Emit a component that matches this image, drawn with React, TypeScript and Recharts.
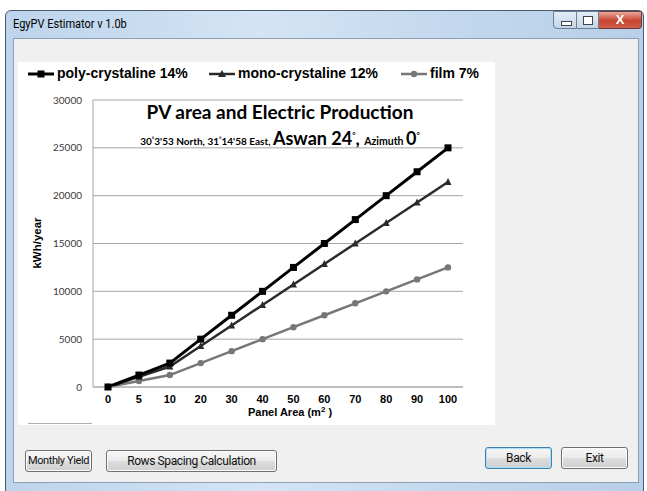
import React from "react";
import { CartesianGrid, Line, LineChart, XAxis, YAxis } from "recharts";

const areas = ["0", "5", "10", "20", "30", "40", "50", "60", "70", "80", "90", "100"];
const polyKwh = [0, 1250, 2500, 5000, 7500, 10000, 12500, 15000, 17500, 20000, 22500, 25000];
const monoKwh = [0, 1070, 2140, 4290, 6430, 8570, 10710, 12860, 15000, 17140, 19290, 21430];
const filmKwh = [0, 625, 1250, 2500, 3750, 5000, 6250, 7500, 8750, 10000, 11250, 12500];
const yTicks = [0, 5000, 10000, 15000, 20000, 25000, 30000];

const data = areas.map((area, i) => ({
  area,
  poly: polyKwh[i],
  mono: monoKwh[i],
  film: filmKwh[i],
}));

const GRID = "#a8a8a8";
const ARIAL = "'Liberation Sans', Arial, sans-serif";
const CAL = "Lato, 'Open Sans', sans-serif";
const UI = "Roboto, 'Open Sans', sans-serif";

const squareDot = (props: any) => (
  <rect key={`sq-${props.index}`} x={props.cx - 3.5} y={props.cy - 3.5} width={7} height={7} fill="#000" />
);
const triDot = (props: any) => (
  <polygon
    key={`tr-${props.index}`}
    points={`${props.cx},${props.cy - 4} ${props.cx - 3.5},${props.cy + 3} ${props.cx + 3.5},${props.cy + 3}`}
    fill="#2a2a2a"
  />
);
const circleDot = (props: any) => (
  <circle key={`ci-${props.index}`} cx={props.cx} cy={props.cy} r={3.2} fill="#777" />
);

function LegendIcon({ color, width, kind }: { color: string; width: number; kind: string }) {
  return (
    <svg width={26} height={10} style={{ display: "inline-block", verticalAlign: "middle", marginRight: 3 }}>
      <line x1={0} y1={5} x2={26} y2={5} stroke={color} strokeWidth={width} />
      {kind === "sq" && <rect x={9.5} y={1.5} width={7} height={7} fill={color} />}
      {kind === "tri" && <polygon points="13,1 9,8 17,8" fill={color} />}
      {kind === "ci" && <circle cx={13} cy={5} r={3.2} fill={color} />}
    </svg>
  );
}

function Button({ left, top, width, label, primary, size = 12 }: { left: number; top: number; width: number; label: string; primary?: boolean; size?: number }) {
  return (
    <div
      style={{
        position: "absolute",
        left,
        top,
        width,
        height: 22,
        boxSizing: "border-box",
        border: primary ? "1px solid #3c7fb1" : "1px solid #707070",
        borderRadius: 3,
        boxShadow: primary ? "inset 0 0 0 1px #a7e0f8" : "inset 0 0 0 1px #fcfcfc",
        background: "linear-gradient(#f6f6f6 0%, #ebebeb 50%, #dddddd 51%, #cfcfcf 100%)",
        fontFamily: UI,
        fontSize: size,
        letterSpacing: -0.4,
        whiteSpace: "nowrap",
        color: "#111",
        textAlign: "center",
        lineHeight: "20px",
      }}
    >
      {label}
    </div>
  );
}

export default function App() {
  return (
    <div style={{ position: "fixed", left: 0, top: 0, width: 647, height: 491, background: "#fff", overflow: "hidden" }}>
      {/* window frame */}
      <div
        style={{
          position: "absolute",
          left: 5,
          top: 10,
          width: 639,
          height: 485,
          boxSizing: "border-box",
          border: "1px solid #4a5a70",
          borderRadius: "6px 6px 0 0",
          background: "linear-gradient(90deg, #bcd4ec 0%, #d4e4f4 40%, #c3d8ee 70%, #b7cfe8 100%)",
        }}
      />
      <div style={{ position: "absolute", left: 13, top: 16, fontFamily: UI, fontSize: 12.5, color: "#000", transform: "scaleX(0.88)", transformOrigin: "left" }}>
        EgyPV Estimator v 1.0b
      </div>
      {/* caption buttons */}
      <div style={{ position: "absolute", left: 553, top: 11, width: 24, height: 18, boxSizing: "border-box", border: "1px solid #6d7f98", borderRadius: "0 0 0 4px", background: "linear-gradient(#e4ecf6, #c4d4e8)" }}>
        <div style={{ position: "absolute", left: 7, top: 9, width: 9, height: 3, background: "#fff", border: "1px solid #444" }} />
      </div>
      <div style={{ position: "absolute", left: 577, top: 11, width: 22, height: 18, boxSizing: "border-box", border: "1px solid #6d7f98", borderLeft: "none", background: "linear-gradient(#e4ecf6, #c4d4e8)" }}>
        <div style={{ position: "absolute", left: 6, top: 4, width: 8, height: 7, border: "1px solid #444", background: "#fff" }} />
      </div>
      <div style={{ position: "absolute", left: 599, top: 11, width: 43, height: 18, boxSizing: "border-box", border: "1px solid #6d3a3a", borderLeft: "none", borderRadius: "0 0 4px 0", background: "linear-gradient(#e8a89a, #c7432f 55%, #d0604c)", color: "#fff", fontFamily: ARIAL, fontWeight: 700, fontSize: 13, textAlign: "center", lineHeight: "16px" }}>
        X
      </div>
      {/* client area */}
      <div style={{ position: "absolute", left: 13, top: 38, width: 626, height: 445, boxSizing: "border-box", border: "1px solid #8d9db4", background: "#f0f0f0" }} />
      {/* chart white panel */}
      <div style={{ position: "absolute", left: 18, top: 62, width: 477, height: 363, background: "#fff" }} />
      <div style={{ position: "absolute", left: 28, top: 423, width: 64, height: 1, background: "#b0b0b0" }} />

      {/* legend */}
      <div style={{ position: "absolute", left: 28, top: 65, fontFamily: ARIAL, fontWeight: 700, fontSize: 14, color: "#000", whiteSpace: "nowrap" }}>
        <span style={{ position: "absolute", left: 0, top: 0 }}>
          <LegendIcon color="#000" width={3} kind="sq" />poly-crystaline 14%
        </span>
        <span style={{ position: "absolute", left: 181, top: 0 }}>
          <LegendIcon color="#2a2a2a" width={2.5} kind="tri" />mono-crystaline 12%
        </span>
        <span style={{ position: "absolute", left: 373, top: 0 }}>
          <LegendIcon color="#777" width={2.5} kind="ci" />film 7%
        </span>
      </div>

      {/* titles */}
      <div style={{ position: "absolute", left: 80, width: 400, top: 100, textAlign: "center", fontFamily: CAL, fontWeight: 700, fontSize: 19, color: "#000" }}>
        PV area and Electric Production
      </div>
      <div style={{ position: "absolute", left: 80, width: 400, top: 127, textAlign: "center", fontFamily: CAL, fontWeight: 700, color: "#000", whiteSpace: "nowrap" }}>
        <span style={{ fontSize: 10 }}>
          30<sup style={{ fontSize: 6 }}>°</sup>3'53 North, 31<sup style={{ fontSize: 6 }}>°</sup>14'58 East,{" "}
        </span>
        <span style={{ fontSize: 18 }}>
          Aswan 24<sup style={{ fontSize: 8 }}>°</sup>,{" "}
        </span>
        <span style={{ fontSize: 10.5 }}>Azimuth </span>
        <span style={{ fontSize: 18 }}>
          0<sup style={{ fontSize: 8 }}>°</sup>
        </span>
      </div>

      {/* chart */}
      <div style={{ position: "absolute", left: 18, top: 62 }}>
        <LineChart width={477} height={363} data={data} margin={{ top: 38, right: 32, left: 20, bottom: 0 }}>
          <CartesianGrid stroke={GRID} vertical={false} />
          <XAxis
            dataKey="area"
            height={38}
            padding={{ left: 15, right: 15 }}
            tickLine={false}
            tickSize={0}
            tickMargin={8}
            axisLine={{ stroke: GRID }}
            tick={{ fill: "#000", fontFamily: ARIAL, fontWeight: 700, fontSize: 11 }}
            label={() => (
              <text x={272} y={354} textAnchor="middle" fontFamily={ARIAL} fontWeight={700} fontSize={11} fill="#000">
                Panel Area (m
                <tspan dy={-4} fontSize={8}>2</tspan>
                <tspan dy={4}> )</tspan>
              </text>
            )}
          />
          <YAxis
            width={55}
            domain={[0, 30000]}
            ticks={yTicks}
            interval={0}
            tickLine={false}
            tickSize={0}
            tickMargin={11}
            axisLine={{ stroke: GRID }}
            tick={{ fill: "#3a3a3a", fontFamily: CAL, fontSize: 10 }}
            label={() => (
              <text x={23} y={181} transform="rotate(-90 23 181)" textAnchor="middle" fontFamily={ARIAL} fontWeight={700} fontSize={11.5} fill="#000">
                kWh/year
              </text>
            )}
          />
          <Line type="linear" dataKey="film" stroke="#777" strokeWidth={2.5} dot={circleDot} isAnimationActive={false} />
          <Line type="linear" dataKey="mono" stroke="#2a2a2a" strokeWidth={2.5} dot={triDot} isAnimationActive={false} />
          <Line type="linear" dataKey="poly" stroke="#000" strokeWidth={3} dot={squareDot} isAnimationActive={false} />
        </LineChart>
      </div>

      {/* buttons */}
      <Button left={25} top={450} width={67} label="Monthly Yield" size={11} />
      <Button left={106} top={450} width={171} label="Rows Spacing Calculation" />
      <Button left={485} top={447} width={67} label="Back" primary />
      <Button left={561} top={447} width={67} label="Exit" />
    </div>
  );
}
